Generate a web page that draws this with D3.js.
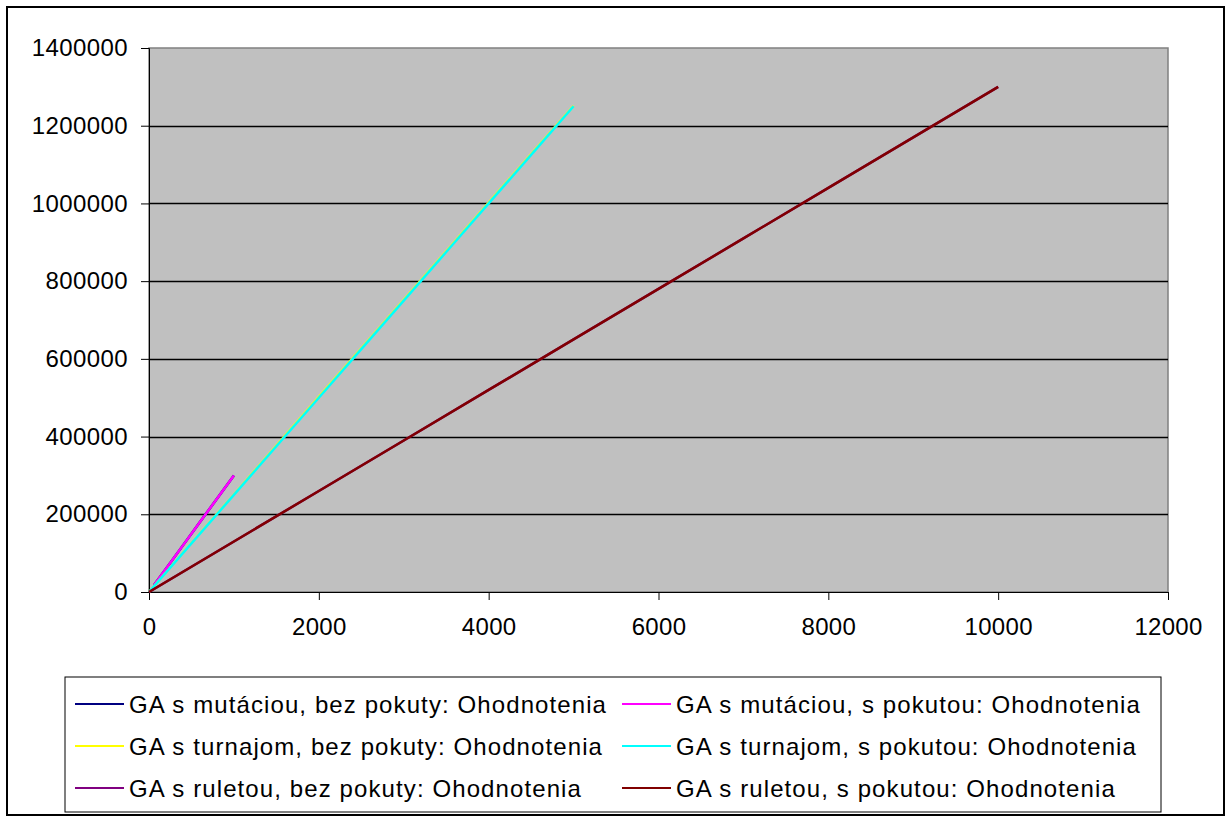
<!DOCTYPE html>
<html><head><meta charset="utf-8">
<script src="https://cdn.jsdelivr.net/npm/d3@7"></script>
<style>
html,body{margin:0;padding:0;background:#fff;}
svg text{font-family:"Liberation Sans",Arial,sans-serif;}
</style></head>
<body><svg id="c" width="1226" height="817"></svg>
<script>
const yTicks = [0,200000,400000,600000,800000,1000000,1200000,1400000];
const xTicks = [0,2000,4000,6000,8000,10000,12000];
const seriesNames = [
  "GA s mutáciou, bez pokuty: Ohodnotenia",
  "GA s mutáciou, s pokutou: Ohodnotenia",
  "GA s turnajom, bez pokuty: Ohodnotenia",
  "GA s turnajom, s pokutou: Ohodnotenia",
  "GA s ruletou, bez pokuty: Ohodnotenia",
  "GA s ruletou, s pokutou: Ohodnotenia"
];
const seriesColors = ["#000080","#FF00FF","#FFFF00","#00FFFF","#800080","#800000"];
// x (generations/iterations) and y (evaluations)
const mutBezX = [60,200,400,600,800,1000];
const mutBezY = [18000,60000,120000,180000,240000,300000];
const mutSX = [60,200,400,600,800,1000];
const mutSY = [18000,60000,120000,180000,240000,300000];
const turBezX = [0,500,1000,1500,2000,2500,3000,3500,4000,4500,5000];
const turBezY = [0,126000,251000,377000,502000,627000,752000,877000,1002000,1127000,1251000];
const turSX = [0,500,1000,1500,2000,2500,3000,3500,4000,4500,5000];
const turSY = [0,125000,250000,375000,500000,625000,750000,875000,1000000,1125000,1250000];
const rulBezX = [0,1000,2000,3000,4000,5000,6000,7000,8000,9000,10000];
const rulBezY = [0,130000,260000,390000,520000,650000,780000,910000,1040000,1170000,1300000];
const rulSX = [0,1000,2000,3000,4000,5000,6000,7000,8000,9000,10000];
const rulSY = [0,130000,260000,390000,520000,650000,780000,910000,1040000,1170000,1300000];

const seriesX = [mutBezX,mutSX,turBezX,turSX,rulBezX,rulSX];
const seriesY = [mutBezY,mutSY,turBezY,turSY,rulBezY,rulSY];

const svg = d3.select("#c");
// outer border
svg.append("rect").attr("x",7).attr("y",7).attr("width",1217).attr("height",808)
  .attr("fill","#fff").attr("stroke","#000").attr("stroke-width",2);

const L=149,R=1168,T=48,B=592;
const x = d3.scaleLinear().domain([0,12000]).range([L,R]);
const y = d3.scaleLinear().domain([0,1400000]).range([B,T]);

svg.append("rect").attr("x",L).attr("y",T).attr("width",R-L).attr("height",B-T)
  .attr("fill","#C0C0C0").attr("stroke","#808080").attr("stroke-width",1.5);

// gridlines
svg.append("g").selectAll("line").data(yTicks.filter(d=>d>0&&d<1400000)).join("line")
  .attr("x1",L).attr("x2",R).attr("y1",d=>Math.round(y(d))+0.5).attr("y2",d=>Math.round(y(d))+0.5)
  .attr("stroke","#000").attr("stroke-width",1.3);

const FONT = "Liberation Sans, Arial, sans-serif";
// axes
const yAxis = d3.axisLeft(y).tickValues(yTicks).tickSize(8).tickPadding(13).tickFormat(d=>String(d));
const gy = svg.append("g").attr("transform",`translate(${L},0)`).call(yAxis);
gy.select(".domain").attr("stroke","#000");
gy.selectAll("line").attr("stroke","#000");
gy.selectAll("text").attr("font-size",24).attr("fill","#000").attr("font-family",FONT)
  .attr("letter-spacing",0.4);

const xAxis = d3.axisBottom(x).tickValues(xTicks).tickSize(8).tickPadding(18).tickFormat(d=>String(d));
const gx = svg.append("g").attr("transform",`translate(0,${B})`).call(xAxis);
gx.select(".domain").attr("stroke","#000");
gx.selectAll("line").attr("stroke","#000");
gx.selectAll("text").attr("font-size",24).attr("fill","#000").attr("font-family",FONT)
  .attr("letter-spacing",0.3);

// lines
const line = d3.line().x(d=>x(d[0])).y(d=>y(d[1]));
seriesX.forEach((xs,i)=>{
  const pts = xs.map((v,j)=>[v,seriesY[i][j]]);
  svg.append("path").datum(pts).attr("d",line).attr("fill","none")
    .attr("stroke",seriesColors[i]).attr("stroke-width",2.5);
});

// legend
svg.append("rect").attr("x",65).attr("y",677).attr("width",1096).attr("height",135)
  .attr("fill","#fff").attr("stroke","#000").attr("stroke-width",1);
const colX=[75,622], rowY=[704,746,788];
seriesNames.forEach((n,i)=>{
  const c=i%2, r=Math.floor(i/2);
  const g=svg.append("g");
  g.append("line").attr("x1",colX[c]).attr("x2",colX[c]+49).attr("y1",rowY[r]).attr("y2",rowY[r])
    .attr("stroke",seriesColors[i]).attr("stroke-width",2);
  g.append("text").attr("x",colX[c]+54).attr("y",rowY[r]+8.5).attr("font-size",24)
    .attr("letter-spacing",1.1).attr("fill","#000").text(n);
});
</script></body></html>
